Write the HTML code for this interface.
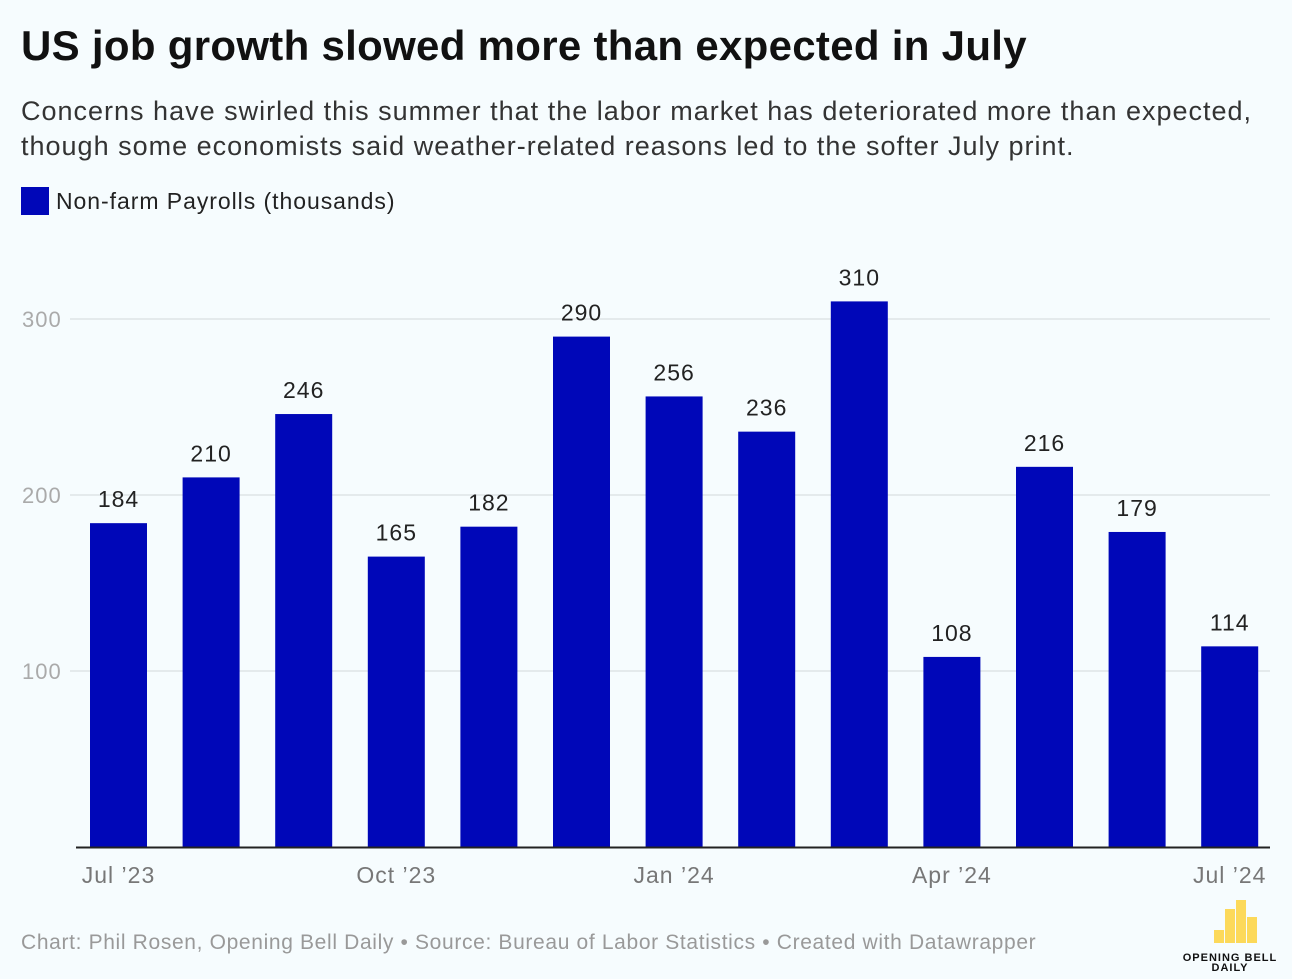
<!DOCTYPE html>
<html><head><meta charset="utf-8"><style>
body{margin:0;width:1292px;height:979px;background:#f6fcfe;font-family:"Liberation Sans",sans-serif;overflow:hidden;position:relative}
.t{position:absolute;white-space:nowrap}
</style></head><body>
<div class="t" style="left:21px;top:22px;font-size:42px;font-weight:bold;color:#111;letter-spacing:0.3px">US job growth slowed more than expected in July</div>
<div class="t" style="left:21px;top:94px;font-size:27px;color:#333;line-height:35px;letter-spacing:1px">Concerns have swirled this summer that the labor market has deteriorated more than expected,<br>though some economists said weather-related reasons led to the softer July print.</div>
<div class="t" style="left:21px;top:187px;font-size:23px;color:#222;letter-spacing:0.95px"><span style="display:inline-block;width:28px;height:28px;background:#0007b8;vertical-align:-6px;margin-right:7px"></span>Non-farm Payrolls (thousands)</div>
<svg id="c" width="1292" height="979" style="position:absolute;left:0;top:0"></svg>
<div class="t" style="left:21px;top:931px;font-size:21px;color:#999;letter-spacing:0.65px">Chart: Phil Rosen, Opening Bell Daily • Source: Bureau of Labor Statistics • Created with Datawrapper</div>
<svg width="122" height="99" style="position:absolute;left:1170px;top:880px">
<rect x="44" y="50" width="10" height="13" fill="#fcd95a"/><rect x="55" y="29" width="10" height="34" fill="#fcd95a"/><rect x="66" y="20" width="10" height="43" fill="#fcd95a"/><rect x="77" y="37" width="10" height="26" fill="#fcd95a"/>
<text x="60" y="81" text-anchor="middle" font-size="11" font-weight="bold" font-family="Liberation Sans" fill="#111" letter-spacing="1">OPENING BELL</text>
<text x="60" y="91" text-anchor="middle" font-size="11" font-weight="bold" font-family="Liberation Sans" fill="#111" letter-spacing="1">DAILY</text>
</svg>
<script>
const categories=["Jul '23","Aug '23","Sep '23","Oct '23","Nov '23","Dec '23","Jan '24","Feb '24","Mar '24","Apr '24","May '24","Jun '24","Jul '24"];
const values=[184,210,246,165,182,290,256,236,310,108,216,179,114];
const yTicks=[100,200,300];
const xTickLabels={0:"Jul \u201923",3:"Oct \u201923",6:"Jan \u201924",9:"Apr \u201924",12:"Jul \u201924"};
const svg=document.getElementById('c');const NS='http://www.w3.org/2000/svg';
const y=v=>847-v*1.76;const x=i=>90+i*92.6;const bw=57;
function mk(t,a){const e=document.createElementNS(NS,t);for(const k in a)e.setAttribute(k,a[k]);svg.appendChild(e);return e;}
yTicks.forEach(v=>{
const l=mk('line',{x1:70,x2:1270,y1:y(v),y2:y(v),stroke:'#dde3e6','stroke-width':1.5});


const t=mk('text',{x:22,y:y(v)+8,'font-size':22,fill:'#aaa','font-family':'Liberation Sans','letter-spacing':1});t.textContent=v;


});
values.forEach((v,i)=>{
const r=mk('rect',{x:x(i),y:y(v),width:bw,height:847-y(v),fill:'#0007b8'});


const t=mk('text',{x:x(i)+bw/2,y:y(v)-16,'font-size':23,fill:'#222','text-anchor':'middle','font-family':'Liberation Sans','letter-spacing':1});t.textContent=v;


if(xTickLabels[i]){const a=mk('text',{x:x(i)+bw/2,y:883,'font-size':23,fill:'#777','text-anchor':'middle','font-family':'Liberation Sans','letter-spacing':1});a.textContent=xTickLabels[i];

}
});
const b=mk('line',{x1:76,x2:1270,y1:847.5,y2:847.5,stroke:'#222','stroke-width':2});


</script>
</body></html>
